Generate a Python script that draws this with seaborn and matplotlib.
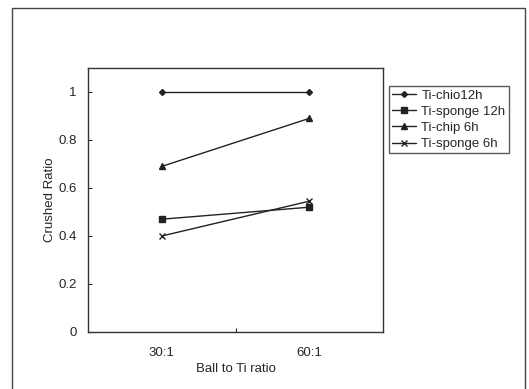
import matplotlib
matplotlib.use("Agg")
import matplotlib.pyplot as plt
import seaborn as sns
from matplotlib.patches import Rectangle
from matplotlib.lines import Line2D

# DATA
ratios = ["30:1", "60:1"]
series_names = ["Ti-chio12h", "Ti-sponge 12h", "Ti-chip 6h", "Ti-sponge 6h"]
chip_12h = [1.0, 1.0]
sponge_12h = [0.47, 0.52]
chip_6h = [0.69, 0.89]
sponge_6h = [0.40, 0.545]
all_series = [chip_12h, sponge_12h, chip_6h, sponge_6h]

sns.set_style("white")
plt.rcParams["font.family"] = ["Liberation Sans", "DejaVu Sans"]

fig = plt.figure(figsize=(5.29, 3.89), dpi=100)
ax = fig.add_axes([88 / 529, 1 - 332 / 389, 295 / 529, 264 / 389])

# OUTER FRAME AROUND THE WHOLE FIGURE
fig.add_artist(Rectangle((12 / 529, -0.01), 513 / 529, 1 - 8 / 389 + 0.01,
                         transform=fig.transFigure, fill=False,
                         edgecolor="#444444", linewidth=1.0))

markers = ["D", "s", "^", "x"]
sizes = [3, 4, 4, 4]

for name, vals, m, ms in zip(series_names, all_series, markers, sizes):
    sns.lineplot(x=ratios, y=vals, marker=m, markersize=ms, color="#222222",
                 markeredgewidth=1.0, markeredgecolor="#222222",
                 linewidth=1.0, ax=ax, label=None)

ax.set_xlim(-0.5, 1.5)
ax.set_ylim(0, 1.1)
ax.set_yticks([0, 0.2, 0.4, 0.6, 0.8, 1.0])
ax.set_yticklabels(["0", "0.2", "0.4", "0.6", "0.8", "1"])
ax.set_xticks([0, 1])
ax.set_xticklabels(ratios)
ax.set_xticks([0.5], minor=True)
ax.tick_params(axis="y", direction="in", length=3, width=0.8, labelsize=9.5, pad=8, left=True)
ax.tick_params(axis="x", which="major", length=0, labelsize=9.5, pad=11)
ax.tick_params(axis="x", which="minor", direction="in", length=3, width=0.8, bottom=True)
for s in ax.spines.values():
    s.set_color("#333333")
    s.set_linewidth(1.0)

ax.set_xlabel("Ball to Ti ratio", fontsize=9.5, labelpad=3)
ax.set_ylabel("Crushed Ratio", fontsize=9.5, labelpad=2)

# LEGEND
handles = [Line2D([], [], color="#222222", linewidth=1.0, marker=m,
                  markersize=ms, markeredgewidth=1.0) for m, ms in zip(markers, sizes)]
leg = fig.legend(handles, series_names, loc="upper left",
                 bbox_to_anchor=(389 / 529, 1 - 86 / 389), fontsize=9.5,
                 frameon=True, fancybox=False, handlelength=1.8, handletextpad=0.4,
                 borderpad=0.25, labelspacing=0.3, borderaxespad=0)
leg.get_frame().set_edgecolor("#333333")
leg.get_frame().set_linewidth(1.0)

fig.savefig("out.png", dpi=100)
